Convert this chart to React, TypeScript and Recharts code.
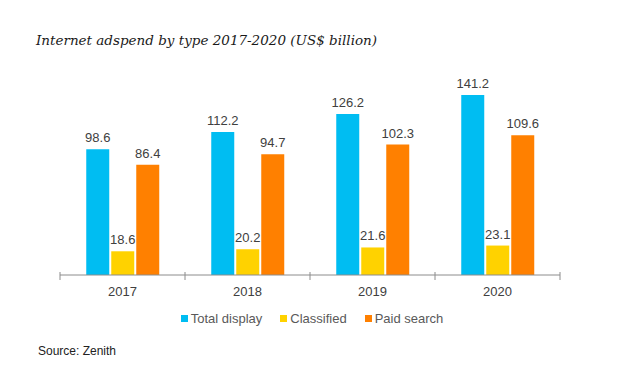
import { BarChart, Bar, XAxis, YAxis, LabelList } from "recharts";

const years = ["2017", "2018", "2019", "2020"];
const totalDisplay = [98.6, 112.2, 126.2, 141.2];
const classified = [18.6, 20.2, 21.6, 23.1];
const paidSearch = [86.4, 94.7, 102.3, 109.6];

const series = [
  { key: "Total display", values: totalDisplay, color: "#00BDF2" },
  { key: "Classified", values: classified, color: "#FFD200" },
  { key: "Paid search", values: paidSearch, color: "#FF8000" },
];

const data = years.map((y, i) => {
  const row: Record<string, string | number> = { year: y };
  series.forEach((s) => {
    row[s.key] = s.values[i];
  });
  return row;
});

const FONT = "'Liberation Sans', Arial, sans-serif";

// tick label plus the small boundary marks between categories
function YearTick(props: any) {
  const { x, y, payload, index } = props;
  const half = 62.5;
  return (
    <g>
      <line x1={x - half} x2={x - half} y1={y - 11} y2={y - 3} stroke="#8c8c8c" />
      {index === years.length - 1 && (
        <line x1={x + half} x2={x + half} y1={y - 11} y2={y - 3} stroke="#8c8c8c" />
      )}
      <text x={x} y={y + 13} textAnchor="middle" fontSize={13} fill="#404040" fontFamily={FONT}>
        {payload.value}
      </text>
    </g>
  );
}

function LegendRow() {
  return (
    <div style={{ display: "flex", justifyContent: "center", gap: 18, fontFamily: FONT, fontSize: 13, color: "#595959" }}>
      {series.map((s) => (
        <span key={s.key} style={{ display: "flex", alignItems: "center", gap: 3 }}>
          <span style={{ width: 7, height: 7, background: s.color, display: "inline-block" }} />
          {s.key}
        </span>
      ))}
    </div>
  );
}

export default function App() {
  return (
    <div style={{ position: "absolute", left: 0, top: 0, width: 624, height: 368, background: "#fff" }}>
      <div
        style={{
          position: "absolute",
          left: 36,
          top: 32,
          fontFamily: "'DejaVu Serif', Georgia, serif",
          fontStyle: "italic",
          fontSize: 13.5,
          color: "#1a1a1a",
        }}
      >
        Internet adspend by type 2017-2020 (US$ billion)
      </div>
      <BarChart
        width={624}
        height={368}
        data={data}
        margin={{ top: 71, right: 64, left: 60, bottom: 63 }}
        barCategoryGap="21%"
        barGap={2}
      >
        <XAxis
          dataKey="year"
          axisLine={{ stroke: "#8c8c8c" }}
          tickLine={false}
          tick={<YearTick />}
          interval={0}
        />
        <YAxis hide domain={[0, 160]} />
        {series.map((s) => (
          <Bar key={s.key} dataKey={s.key} fill={s.color} isAnimationActive={false}>
            <LabelList
              dataKey={s.key}
              position="top"
              offset={7}
              fontSize={13}
              fill="#404040"
              fontFamily={FONT}
            />
          </Bar>
        ))}
      </BarChart>
      <div style={{ position: "absolute", left: 0, top: 311, width: 624 }}>
        <LegendRow />
      </div>
      <div style={{ position: "absolute", left: 38, top: 344, fontFamily: FONT, fontSize: 12, color: "#222" }}>
        Source: Zenith
      </div>
    </div>
  );
}
